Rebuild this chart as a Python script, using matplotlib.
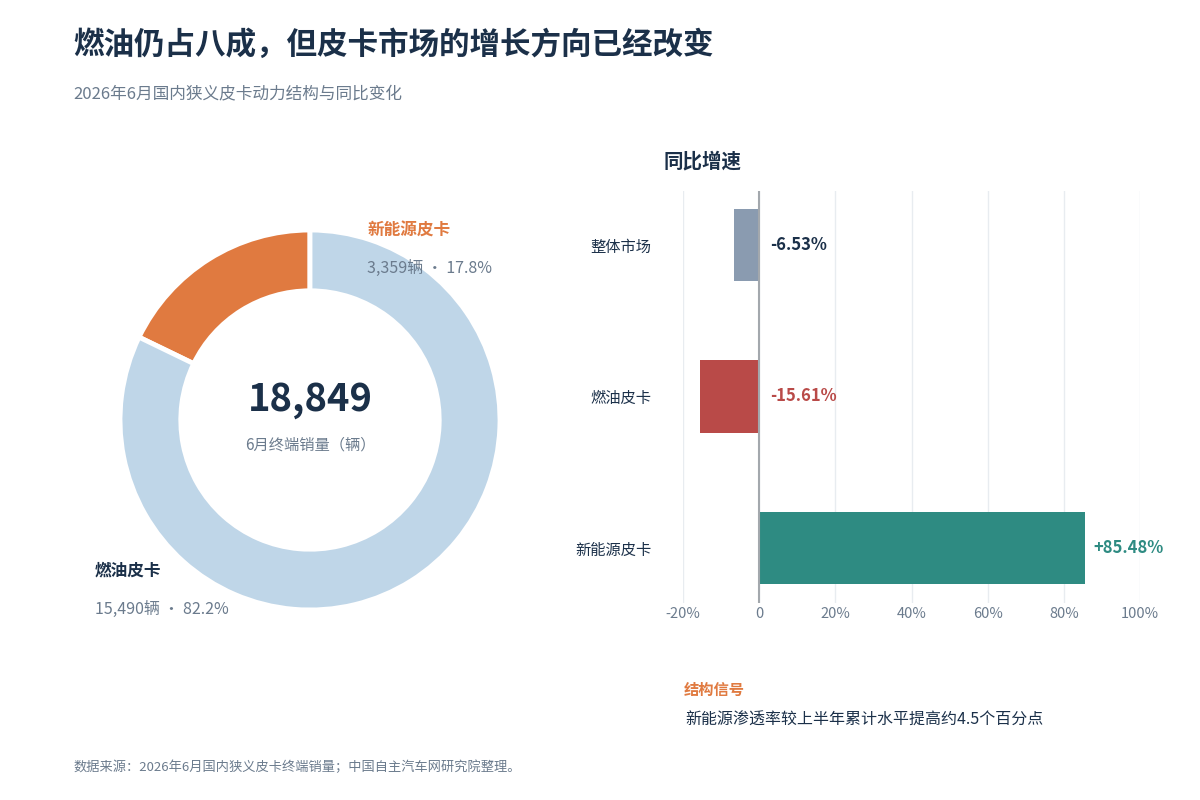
import matplotlib
matplotlib.use("Agg")
import matplotlib.pyplot as plt

plt.rcParams['font.family'] = ['Noto Sans CJK SC', 'DejaVu Sans']

# data
share_names = ["新能源皮卡", "燃油皮卡"]
share_units = [3359, 15490]
share_pct = [17.8, 82.2]
total_units = 18849

growth_names = ["整体市场", "燃油皮卡", "新能源皮卡"]
growth_values = [-6.53, -15.61, 85.48]
growth_ticks = [-20, 0, 20, 40, 60, 80, 100]
growth_tick_labels = ["-20%", "0", "20%", "40%", "60%", "80%", "100%"]

NAVY = "#1b3049"
GRAY = "#6b7b8d"
ORANGE = "#e07a40"
LIGHTBLUE = "#bfd6e8"
bar_colors = ["#8a9bb0", "#b94a48", "#2e8b82"]
label_colors = [NAVY, "#b94a48", "#2e8b82"]

W, H = 1200, 800


def px(x, y):
    return x / W, 1 - y / H


fig = plt.figure(figsize=(12, 8), dpi=100)
fig.patch.set_facecolor("white")

# titles
fig.text(*px(73, 45), "燃油仍占八成，但皮卡市场的增长方向已经改变", fontsize=22,
         fontweight="bold", color=NAVY, va="center", ha="left")
fig.text(*px(73, 94), "2026年6月国内狭义皮卡动力结构与同比变化", fontsize=12,
         color=GRAY, va="center", ha="left")

# donut
r_px = 190
ax_d = fig.add_axes([(310 - 200) / W, (H - 420 - 200) / H, 400 / W, 400 / H])
lim = 200 / r_px
ax_d.pie(share_units, colors=[ORANGE, LIGHTBLUE], startangle=90, counterclock=True,
         radius=1, wedgeprops=dict(width=0.32, edgecolor="white", linewidth=3.5))
ax_d.set_xlim(-lim, lim)
ax_d.set_ylim(-lim, lim)
ax_d.set_aspect("equal")
ax_d.axis("off")

ax_d.text(0, 0.11, f"{total_units:,}", fontsize=27.5, fontweight="bold", color=NAVY,
          ha="center", va="center")
ax_d.text(0, -0.13, "6月终端销量（辆）", fontsize=11, color=GRAY, ha="center", va="center")

fig.text(*px(368, 231), share_names[0], fontsize=12, fontweight="bold", color=ORANGE,
         ha="left", va="center")
fig.text(*px(367, 268), f"{share_units[0]:,}辆 · {share_pct[0]}%", fontsize=11.5,
         color=GRAY, ha="left", va="center")
fig.text(*px(95, 571), share_names[1], fontsize=12, fontweight="bold", color=NAVY,
         ha="left", va="center")
fig.text(*px(95, 609), f"{share_units[1]:,}辆 · {share_pct[1]}%", fontsize=11.5,
         color=GRAY, ha="left", va="center")

# growth bars
ax_b = fig.add_axes([683 / W, (H - 603) / H, (1140 - 683) / W, (603 - 191) / H])
ypos = list(range(len(growth_names)))
ax_b.barh(ypos, growth_values, height=0.48, color=bar_colors, zorder=2)
ax_b.set_xlim(-20, 100)
ax_b.set_ylim(2.363, -0.356)
ax_b.set_xticks(growth_ticks)
ax_b.set_xticklabels(growth_tick_labels)
ax_b.set_yticks(ypos)
ax_b.set_yticklabels(growth_names)
ax_b.tick_params(axis="both", length=0)
ax_b.tick_params(axis="x", labelsize=10.5, labelcolor=GRAY, pad=3)
ax_b.tick_params(axis="y", labelsize=11, labelcolor=NAVY, pad=22.5)
ax_b.grid(axis="x", color="#e8ecf0", linewidth=1, zorder=0)
ax_b.axvline(0, color="#a3a8ad", linewidth=1.5, zorder=3)
for s in ax_b.spines.values():
    s.set_visible(False)

for y, v, c in zip(ypos, growth_values, label_colors):
    x = v + 2.4 if v > 0 else 3.0
    txt = f"+{v:.2f}%" if v > 0 else f"{v:.2f}%"
    ax_b.text(x, y, txt, color=c, fontsize=12, fontweight="bold", ha="left", va="center")

fig.text(*px(664, 162), "同比增速", fontsize=14, fontweight="bold", color=NAVY,
         ha="left", va="center")

# note
fig.text(*px(684, 690), "结构信号", fontsize=11, fontweight="bold", color=ORANGE,
         ha="left", va="center")
fig.text(*px(685, 720), "新能源渗透率较上半年累计水平提高约4.5个百分点", fontsize=11.5,
         color=NAVY, ha="left", va="center")

fig.text(*px(73, 767), "数据来源：2026年6月国内狭义皮卡终端销量；中国自主汽车网研究院整理。",
         fontsize=9.5, color=GRAY, ha="left", va="center")

fig.savefig("out.png", dpi=100, facecolor="white")
